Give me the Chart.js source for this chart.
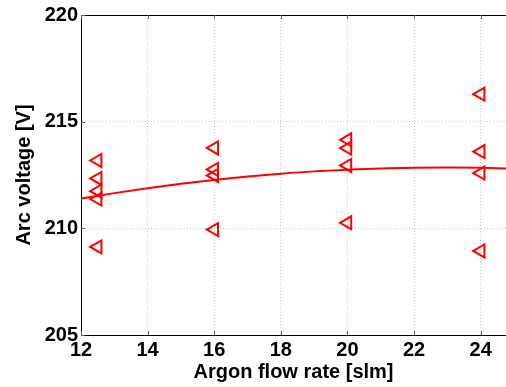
<!DOCTYPE html>
<html>
<head>
<meta charset="utf-8">
<script src="https://cdn.jsdelivr.net/npm/chart.js@4/dist/chart.umd.min.js"></script>
<style>
  html, body { margin: 0; padding: 0; background: #fff; overflow: hidden; }
  canvas { display: block; }
</style>
</head>
<body>
<canvas id="arc" width="506" height="387"></canvas>
<script>
// measured arc voltage at each argon flow rate
const flowRates = [12.5, 12.5, 12.5, 12.5, 12.5, 16, 16, 16, 16, 20, 20, 20, 20, 24, 24, 24, 24];
const voltages  = [213.18, 212.34, 211.74, 211.37, 209.13,
                   213.77, 212.76, 212.48, 209.94,
                   214.15, 213.76, 212.95, 210.26,
                   216.29, 213.60, 212.59, 208.94];

// fitted trend curve
const fitX = [12, 13, 14, 15, 16, 17, 18, 19, 20, 21, 22, 23, 24, 24.76];
const fitY = [211.40, 211.65, 211.88, 212.09, 212.27, 212.43, 212.56, 212.67,
              212.75, 212.81, 212.84, 212.85, 212.84, 212.81];

const xTicks = [12, 14, 16, 18, 20, 22, 24];
const yTicks = [205, 210, 215, 220];

const RED = '#ff0000';
const FONT = { family: '"Liberation Sans", Arial, sans-serif', size: 20, weight: 'bold' };

// top frame line and short inward tick marks
const framePlugin = {
  id: 'frame',
  afterDraw(chart) {
    const { ctx, chartArea: a, scales } = chart;
    ctx.save();
    ctx.strokeStyle = '#000';
    ctx.lineWidth = 1;
    ctx.beginPath();
    ctx.moveTo(a.left, a.top + 0.5);
    ctx.lineTo(a.right, a.top + 0.5);
    ctx.stroke();
    ctx.strokeStyle = '#666';
    ctx.beginPath();
    xTicks.forEach(v => {
      const px = Math.round(scales.x.getPixelForValue(v)) + 0.5;
      ctx.moveTo(px, a.bottom); ctx.lineTo(px, a.bottom - 4);
      ctx.moveTo(px, a.top); ctx.lineTo(px, a.top + 4);
    });
    yTicks.forEach(v => {
      const py = Math.round(scales.y.getPixelForValue(v)) + 0.5;
      ctx.moveTo(a.left, py); ctx.lineTo(a.left + 4, py);
    });
    ctx.stroke();
    ctx.restore();
  }
};

new Chart(document.getElementById('arc'), {
  type: 'scatter',
  data: {
    datasets: [
      {
        label: 'fit',
        data: fitX.map((x, i) => ({ x, y: fitY[i] })),
        showLine: true,
        borderColor: RED,
        borderWidth: 2,
        pointRadius: 0,
        tension: 0.4,
        cubicInterpolationMode: 'monotone',
      },
      {
        label: 'measured',
        data: flowRates.map((x, i) => ({ x, y: voltages[i] })),
        pointStyle: 'triangle',
        rotation: -90,
        pointRadius: 7.5,
        pointBorderWidth: 2,
        borderColor: RED,
        backgroundColor: 'rgba(0,0,0,0)',
      },
    ],
  },
  options: {
    responsive: false,
    animation: false,
    layout: { autoPadding: false, padding: { top: 13, right: 0, left: 0, bottom: 0 } },
    plugins: { legend: { display: false }, tooltip: { enabled: false } },
    scales: {
      x: {
        type: 'linear',
        min: 12,
        max: 24.76,
        afterBuildTicks: s => { s.ticks = xTicks.map(v => ({ value: v })); },
        afterFit: s => { s.height = 52; s.paddingLeft = 0; s.paddingRight = 0; },
        ticks: { color: '#000', font: FONT, padding: 3, includeBounds: false },
        grid: { color: '#c8c8c8', drawTicks: false },
        border: { color: '#000', width: 1, dash: [1, 2] },
        title: { display: true, text: 'Argon flow rate [slm]', color: '#000', font: FONT, padding: { top: 0, bottom: 3 } },
      },
      y: {
        min: 205,
        max: 220,
        afterBuildTicks: s => { s.ticks = yTicks.map(v => ({ value: v })); },
        afterFit: s => { s.width = 81; },
        ticks: { color: '#000', font: FONT, padding: 3 },
        grid: { color: '#c8c8c8', drawTicks: false },
        border: { color: '#000', width: 1, dash: [1, 2] },
        title: { display: true, text: 'Arc voltage [V]', color: '#000', font: FONT, padding: { top: 12, bottom: 4 } },
      },
    },
  },
  plugins: [framePlugin],
});
</script>
</body>
</html>
